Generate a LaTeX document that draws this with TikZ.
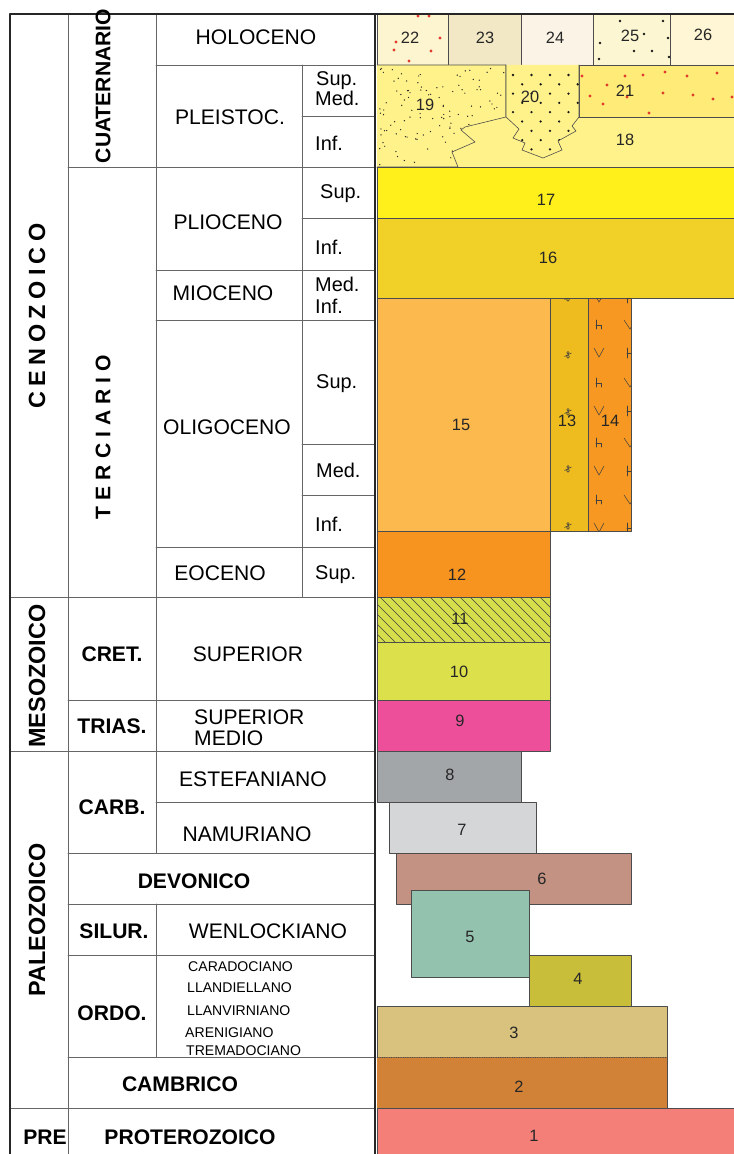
\documentclass[tikz,border=0pt]{standalone}
\usepackage{fontspec}
\setmainfont{Liberation Sans}
\newcommand{\sgap}{\kern4.6pt}
\newcommand{\tgap}{\kern5.2pt}
\definecolor{c1}{HTML}{F37F78}
\definecolor{c2}{HTML}{D28236}
\definecolor{c3}{HTML}{D9C27E}
\definecolor{c4}{HTML}{C9BE3A}
\definecolor{c5}{HTML}{93C2AE}
\definecolor{c6}{HTML}{C39282}
\definecolor{c7}{HTML}{D4D6D8}
\definecolor{c8}{HTML}{A3A6A8}
\definecolor{c9}{HTML}{EE4F9B}
\definecolor{c10}{HTML}{DCE04A}
\definecolor{c11}{HTML}{D6DE4B}
\definecolor{c12}{HTML}{F7931F}
\definecolor{c13}{HTML}{EEBC1E}
\definecolor{c14}{HTML}{F69821}
\definecolor{c15}{HTML}{FCBA4E}
\definecolor{c16}{HTML}{F1D028}
\definecolor{c17}{HTML}{FFEF1A}
\definecolor{c18}{HTML}{FFF28A}
\definecolor{c21}{HTML}{FFEC78}
\definecolor{c22}{HTML}{FDF5D0}
\definecolor{c23}{HTML}{F3E8C6}
\definecolor{c24}{HTML}{FAF3E6}
\definecolor{c25}{HTML}{FDF6D2}
\definecolor{c26}{HTML}{FEF6D4}
\definecolor{dotred}{HTML}{E23B2E}

\begin{document}
\begin{tikzpicture}[x=0.03cm,y=-0.03cm,line cap=round,line join=round,
    tabline/.style={line width=.6pt,draw=black!60},
    bigline/.style={line width=1.5pt,draw=black!85},
    unitbox/.style={line width=.5pt,draw=black!70},
    glyph/.style={line width=.45pt,draw=black!75},
    lbl/.style={inner sep=0pt,text depth=0pt,font=\fontsize{18}{18}\selectfont},
    blbl/.style={inner sep=0pt,text depth=0pt,
      font=\fontsize{18}{18}\selectfont\bfseries},
    erabl/.style={inner sep=0pt,text depth=0pt,rotate=90,
      font=\fontsize{20}{20}\selectfont\bfseries},
    sublbl/.style={inner sep=0pt,text depth=0pt,anchor=west,
      font=\fontsize{17}{17}\selectfont},
    ordlbl/.style={inner sep=0pt,text depth=0pt,anchor=west,
      font=\fontsize{12}{12}\selectfont},
    num/.style={inner sep=0pt,text=black!85,font=\fontsize{14}{14}\selectfont}]
  \useasboundingbox (0,0) rectangle (734,1154);

  % Cuaternario: units 18 to 26
  \foreach \xa/\xb/\col in {377/448/c22,448/521/c23,521/593/c24,
      593/670/c25,670/734/c26}
    \filldraw[unitbox,fill=\col] (\xa,14) rectangle (\xb,65);
  \fill[c18] (377,65) rectangle (734,167);
  \filldraw[unitbox,fill=c21] (579,65) rectangle (734,117);
  \filldraw[unitbox,fill=c18] (377,65) -- (506,65) -- (506,117) -- (465,127)
    -- (461,130) -- (475,142) -- (452,152) -- (458,167) -- (377,167);
  \filldraw[unitbox,fill=c18] (506,65) -- (506,117) -- (519,129) -- (513,138)
    -- (525,143) -- (522,150) -- (543,158) -- (562,150) -- (558,141)
    -- (576,131) -- (572,126) -- (579,117) -- (579,65);
  \draw[unitbox] (377,167) -- (734,167);

  % scattered sand in 19
  \begin{scope}
    \clip (377,65) -- (506,65) -- (506,117) -- (465,127) -- (461,130)
      -- (475,142) -- (452,152) -- (458,167) -- (377,167) -- cycle;
    \pgfmathsetseed{11}
    \foreach \i in {1,...,120}
      \fill[black!85] ({379+126*rnd},{68+97*rnd}) circle (.6pt);
  \end{scope}
  % gravel in 20
  \begin{scope}
    \clip (506,65) -- (506,117) -- (519,129) -- (513,138) -- (525,143)
      -- (522,150) -- (543,158) -- (562,150) -- (558,141) -- (576,131)
      -- (572,126) -- (579,117) -- (579,65) -- cycle;
    \foreach \r in {0,...,9}
      \foreach \c in {0,...,4}
        \fill[black!90] ({513+18.5*\c+9.2*mod(\r,2)},{75+9.3*\r}) circle (1.1pt);
  \end{scope}
  % red dots in 21 and 22, black dots in 25
  \foreach \p in {(582,76),(607,85),(625,76),(643,75),(665,72),(687,76),
      (717,73),(590,96),(603,104),(627,97),(663,93),(693,95),(713,99),
      (649,113),(732,97)}
    \fill[dotred] \p circle (1.3pt);
  \foreach \p in {(418,16),(429,16),(440,38),(396,42),(394,50),(431,51),
      (409,61)}
    \fill[dotred] \p circle (1.3pt);
  \foreach \p in {(620,21),(663,21),(644,34),(668,38),(600,43),(634,51),
      (652,51),(599,59),(669,57)}
    \fill[black!90] \p circle (1.2pt);

  % Terciario: units 12 to 17
  \filldraw[unitbox,fill=c17] (377,167) rectangle (734,218);
  \filldraw[unitbox,fill=c16] (377,218) rectangle (734,298);
  \filldraw[unitbox,fill=c15] (377,298) rectangle (550,531);
  \filldraw[unitbox,fill=c13] (550,298) rectangle (588,531);
  \filldraw[unitbox,fill=c14] (588,298) rectangle (631,531);
  \filldraw[unitbox,fill=c12] (377,531) rectangle (550,597);
  \begin{scope}
    \clip (550,298) rectangle (631,531);
    \foreach \y in {298,355,412,469,526} {
      \draw[glyph] (568,\y-2.2) circle (1.1pt) (568,\y+1.8) circle (1.3pt);
      \draw[glyph] (564.5,\y+1.5) -- (571.5,\y-2);
    }
    \foreach \y in {325,383,443,500} {
      \draw[glyph] (596,\y-5) -- (596,\y+4) (596,\y+0.5) -- (601,\y+0.5)
        -- (601,\y+4);
      \draw[glyph] (624,\y-5) -- (630,\y+4) -- (636,\y-5);
    }
    \foreach \y in {298,353,411,471,528} {
      \draw[glyph] (594,\y-5) -- (599,\y+4) -- (604,\y-5);
      \draw[glyph] (627,\y-5) -- (627,\y+5) (627,\y) -- (640,\y);
    }
  \end{scope}

  % Mesozoico: units 9 to 11
  \fill[c11] (377,597) rectangle (550,642);
  \begin{scope}
    \clip (377,597) rectangle (550,642);
    \foreach \x in {330,340,...,550}
      \draw[line width=.5pt,black!75] (\x,597) -- (\x+45,642);
  \end{scope}
  \draw[unitbox] (377,597) rectangle (550,642);
  \filldraw[unitbox,fill=c10] (377,642) rectangle (550,700);
  \filldraw[unitbox,fill=c9] (377,700) rectangle (550,751);

  % Paleozoico and Proterozoico: units 1 to 8
  \filldraw[unitbox,fill=c8] (377,751) rectangle (521,802);
  \filldraw[unitbox,fill=c7] (389,802) rectangle (536,853);
  \filldraw[unitbox,fill=c6] (396,853) rectangle (631,904);
  \filldraw[unitbox,fill=c5] (411,890) rectangle (529,977);
  \filldraw[unitbox,fill=c4] (529,955) rectangle (631,1006);
  \fill[c3] (377,1006) rectangle (667,1057);
  \fill[c2] (377,1057) rectangle (667,1108);
  \draw[unitbox] (377,1057) -- (377,1006) -- (667,1006) -- (667,1108);
  \draw[unitbox,densely dotted] (377,1057) -- (667,1057);
  \filldraw[unitbox,fill=c1] (377,1108) rectangle (736,1156);

  % table rules
  \foreach \y in {597,751,1108}
    \draw[tabline] (10,\y) -- (375,\y);
  \foreach \y in {167,700,853,904,955,1057}
    \draw[tabline] (68,\y) -- (375,\y);
  \foreach \y in {65,270,320,547,802}
    \draw[tabline] (156,\y) -- (375,\y);
  \foreach \y in {116,218,444,495}
    \draw[tabline] (302,\y) -- (375,\y);
  \draw[tabline] (68,14) -- (68,1154);
  \draw[tabline] (156,14) -- (156,853) (156,904) -- (156,1057);
  \draw[tabline] (302,65) -- (302,597);
  \draw[bigline] (10,1156) -- (10,14) -- (734,14);
  \draw[bigline] (375,14) -- (375,1156);

  % eras and systems
  \node[erabl] (ceno) at (37,316)
    {C\sgap E\sgap N\sgap O\sgap Z\sgap O\sgap I\sgap C\sgap O};
  \node[erabl] (meso) at (37,676) {MESOZOICO};
  \node[erabl] (paleo) at (37,920) {PALEOZOICO};
  \node[blbl,rotate=90] (cuat) at (103,86) {CUATERNARIO};
  \node[blbl,rotate=90] (terc) at (103,437)
    {T\tgap E\tgap R\tgap C\tgap I\tgap A\tgap R\tgap I\tgap O};
  \node[blbl] (cret) at (112,654) {CRET.};
  \node[blbl] (trias) at (112,726) {TRIAS.};
  \node[blbl] (carb) at (112,807) {CARB.};
  \node[blbl] (devo) at (194,881) {DEVONICO};
  \node[blbl] (silur) at (114,931) {SILUR.};
  \node[blbl] (ordo) at (112,1013) {ORDO.};
  \node[blbl] (camb) at (180,1084) {CAMBRICO};
  \node[blbl] (pre) at (45,1137) {PRE};
  \node[blbl] (prot) at (190,1137) {PROTEROZOICO};

  % series
  \node[lbl] (holo) at (256,37) {HOLOCENO};
  \node[lbl] (pleis) at (230,117) {PLEISTOC.};
  \node[lbl] (plio) at (228,222) {PLIOCENO};
  \node[lbl] (mio) at (223,293) {MIOCENO};
  \node[lbl] (oligo) at (227,427) {OLIGOCENO};
  \node[lbl] (eoc) at (220,573) {EOCENO};
  \node[lbl] (supcret) at (248,654) {SUPERIOR};
  \node[lbl,anchor=west] (suptri) at (194,717) {SUPERIOR};
  \node[lbl,anchor=west] (medtri) at (194,738) {MEDIO};
  \node[lbl] (este) at (253,779) {ESTEFANIANO};
  \node[lbl] (namu) at (247,834) {NAMURIANO};
  \node[lbl] (wenl) at (268,931) {WENLOCKIANO};

  % subdivisions
  \node[sublbl] (plsup) at (316,79) {Sup.};
  \node[sublbl] (plmed) at (315,98) {Med.};
  \node[sublbl] (plinf) at (315,143) {Inf.};
  \node[sublbl] (posup) at (320,192) {Sup.};
  \node[sublbl] (poinf) at (315,247) {Inf.};
  \node[sublbl] (mimed) at (315,284) {Med.};
  \node[sublbl] (miinf) at (315,306) {Inf.};
  \node[sublbl] (olsup) at (316,382) {Sup.};
  \node[sublbl] (olmed) at (316,470) {Med.};
  \node[sublbl] (olinf) at (315,524) {Inf.};
  \node[sublbl] (eosup) at (315,573) {Sup.};
  \node[ordlbl] (cara) at (188,967) {CARADOCIANO};
  \node[ordlbl] (llad) at (187,988) {LLANDIELLANO};
  \node[ordlbl] (llav) at (187,1011) {LLANVIRNIANO};
  \node[ordlbl] (aren) at (185,1033) {ARENIGIANO};
  \node[ordlbl] (trem) at (186,1051) {TREMADOCIANO};

  % unit numbers
  \foreach \n/\x/\y in {22/410/38,23/485/38,24/555/38,25/630/36,26/703/35,
      19/425/105,20/530/97,21/625/91,18/625/140,17/546/200,16/548/258,
      15/461/425,13/567/421,14/610/421,12/457/575,11/460/619,10/459/672,
      9/460/721,8/450/775,7/462/830,6/542/879,5/470/937,4/578/979,
      3/514/1033,2/519/1087,1/534/1136}
    \node[num] (u\n) at (\x,\y) {\n};
\end{tikzpicture}
\end{document}
